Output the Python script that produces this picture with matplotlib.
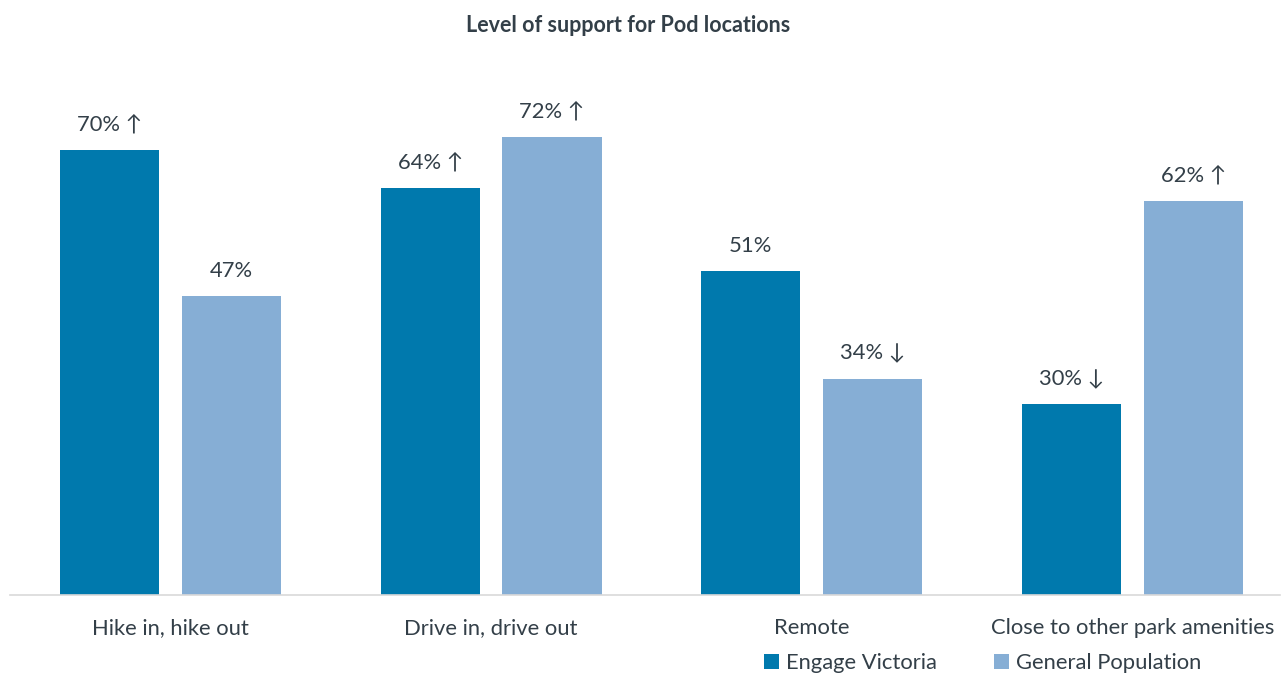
import matplotlib
matplotlib.use("Agg")
import matplotlib.pyplot as plt
import numpy as np
from matplotlib.patches import Patch

categories = ["Hike in, hike out", "Drive in, drive out", "Remote", "Close to other park amenities"]
series_names = ["Engage Victoria", "General Population"]
engage = [70, 64, 51, 30]
general = [47, 72, 34, 62]
engage_marks = [" ↑", " ↑", "", " ↓"]
general_marks = ["", " ↑", " ↓", " ↑"]

c_dark = "#0079AD"
c_light = "#86AED5"
txt = "#333F48"
fam = ["Lato", "DejaVu Sans"]
fs = 15.8

fig = plt.figure(figsize=(12.81, 6.75), dpi=100)
W, H = 1281, 675
left_px, right_px, top_px, bot_px = 10, 1280, 86, 595
ax = fig.add_axes([left_px / W, 1 - bot_px / H, (right_px - left_px) / W, (bot_px - top_px) / H])

x = np.arange(len(categories))
bw = 0.309
off = 0.19
b1 = ax.bar(x - off, engage, bw, color=c_dark, zorder=2)
b2 = ax.bar(x + off, general, bw, color=c_light, zorder=2)

for bars, vals, marks in ((b1, engage, engage_marks), (b2, general, general_marks)):
    for r, v, m in zip(bars, vals, marks):
        ax.annotate(f"{v}%{m}", (r.get_x() + r.get_width() / 2, v), xytext=(0, 18),
                    textcoords="offset points", ha="center", va="center",
                    fontsize=fs, color=txt, family=fam)

ax.set_xlim(-0.5, 3.46)
ax.set_ylim(0, 80)
for s in ["top", "right", "left"]:
    ax.spines[s].set_visible(False)
ax.spines["bottom"].set_color("#D9D9D9")
ax.spines["bottom"].set_linewidth(1.2)
ax.set_yticks([])
ax.set_xticks(x)
ax.set_xticklabels(categories, fontsize=fs, color=txt, family=fam)
for lab in ax.get_xticklabels():
    lab.set_va("baseline")
ax.tick_params(axis="x", length=0, pad=28)

fig.text(628 / W, 1 - 25 / H, "Level of support for Pod locations", ha="center", va="center",
         fontsize=15.5, fontweight="bold", color=txt, family=fam)

handles = [Patch(facecolor=c_dark), Patch(facecolor=c_light)]
leg = fig.legend(handles, series_names, loc="center", bbox_to_anchor=(983 / W, 1 - 663 / H),
                 ncol=2, frameon=False, handlelength=0.65, handleheight=0.65,
                 handletextpad=0.35, columnspacing=2.6, prop={"family": fam, "size": fs})
for t in leg.get_texts():
    t.set_color(txt)

fig.savefig("out.png", dpi=100)
